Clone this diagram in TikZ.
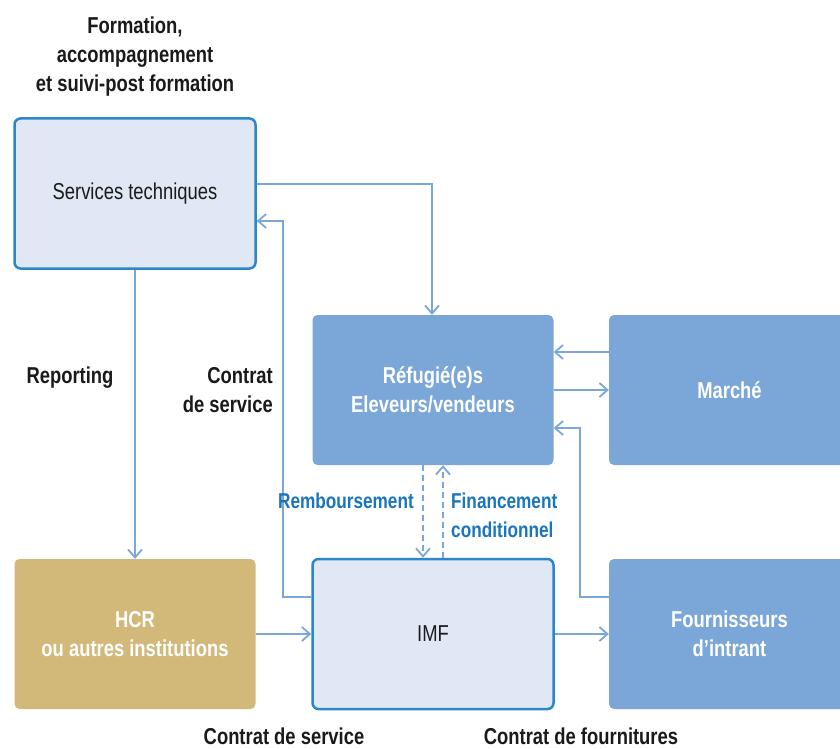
\documentclass[tikz,border=0pt]{standalone}
\usepackage{fontspec}
\setmainfont[FakeStretch=0.80]{Liberation Sans}
\usetikzlibrary{arrows.meta}
\definecolor{lightfill}{HTML}{E1E8F5}
\definecolor{border}{HTML}{2A87C9}
\definecolor{midblue}{HTML}{7BA6D8}
\definecolor{gold}{HTML}{D2B97A}
\definecolor{labblue}{HTML}{1A75BC}
\definecolor{ink}{HTML}{1A1A1A}
\tikzset{
  boxbase/.style={minimum width=241pt, minimum height=150pt, inner sep=0pt, align=center,
    font=\fontsize{23}{29}\selectfont},
  lightbox/.style={boxbase, fill=lightfill, draw=border, line width=2.5pt, rounded corners=6pt, text=ink},
  darkbox/.style={boxbase, fill=midblue, rounded corners=5pt, text=white, font=\fontsize{23}{29}\selectfont\bfseries},
  goldbox/.style={darkbox, fill=gold},
  arr/.style={draw=midblue, line width=1.8pt, -{Straight Barb[length=8pt,width=14pt,line width=1.8pt]}},
  dsh/.style={arr, dash pattern=on 6pt off 4pt},
  lab/.style={font=\fontsize{23}{29}\selectfont\bfseries, text=ink, inner sep=0pt},
  blab/.style={font=\fontsize{21.5}{29}\selectfont\bfseries, text=labblue, inner sep=0pt}
}
\begin{document}
\begin{tikzpicture}[x=1pt,y=-1pt]
\useasboundingbox (0,0) rectangle (840,749);
\node[lightbox] (st) at (135,193.5) {Services techniques};
\node[darkbox] (ref) at (433,390) {Réfugié(e)s\\Eleveurs/vendeurs};
\node[darkbox] (mar) at (729.5,390) {Marché};
\node[goldbox] (hcr) at (135,634) {HCR\\ou autres institutions};
\node[lightbox] (imf) at (433,634) {IMF};
\node[darkbox] (four) at (729.5,634) {Fournisseurs\\d’intrant};

\coordinate (c1) at (432,184);
\coordinate (c2) at (283,597);
\coordinate (c3) at (283,221);
\coordinate (c4) at (580,597);
\coordinate (c5) at (580,428);

\draw[arr] (st.east |- c1) -- (c1) -- (ref.north -| c1);
\draw[arr] (imf.west |- c2) -- (c2) -- (c3) -- (st.east |- c3);
\draw[arr] (st.south) -- (hcr.north);
\draw[arr] (mar.west |- 0,352) -- (ref.east |- 0,352);
\draw[arr] (ref.east |- 0,390) -- (mar.west |- 0,390);
\draw[arr] (four.west |- c4) -- (c4) -- (c5) -- (ref.east |- c5);
\draw[arr] (hcr.east) -- (imf.west);
\draw[arr] (imf.east) -- (four.west);
\draw[dsh] (ref.south -| 423,0) -- (imf.north -| 423,0);
\draw[dsh] (imf.north -| 443,0) -- (ref.south -| 443,0);

\node[lab, align=center] (t1) at (135,57) {Formation,\\accompagnement\\et suivi-post formation};
\node[lab, anchor=base] (t2) at (70,383) {Reporting};
\node[lab, align=right, anchor=east] (t3) at (273,390) {Contrat\\de service};
\node[blab, anchor=base east] (t4) at (414,508) {Remboursement};
\node[blab, align=left, anchor=west] (t5) at (451,515) {Financement\\conditionnel};
\node[lab, anchor=base] (t6) at (284,744) {Contrat de service};
\node[lab, anchor=base] (t7) at (581,744) {Contrat de fournitures};
\end{tikzpicture}
\end{document}
